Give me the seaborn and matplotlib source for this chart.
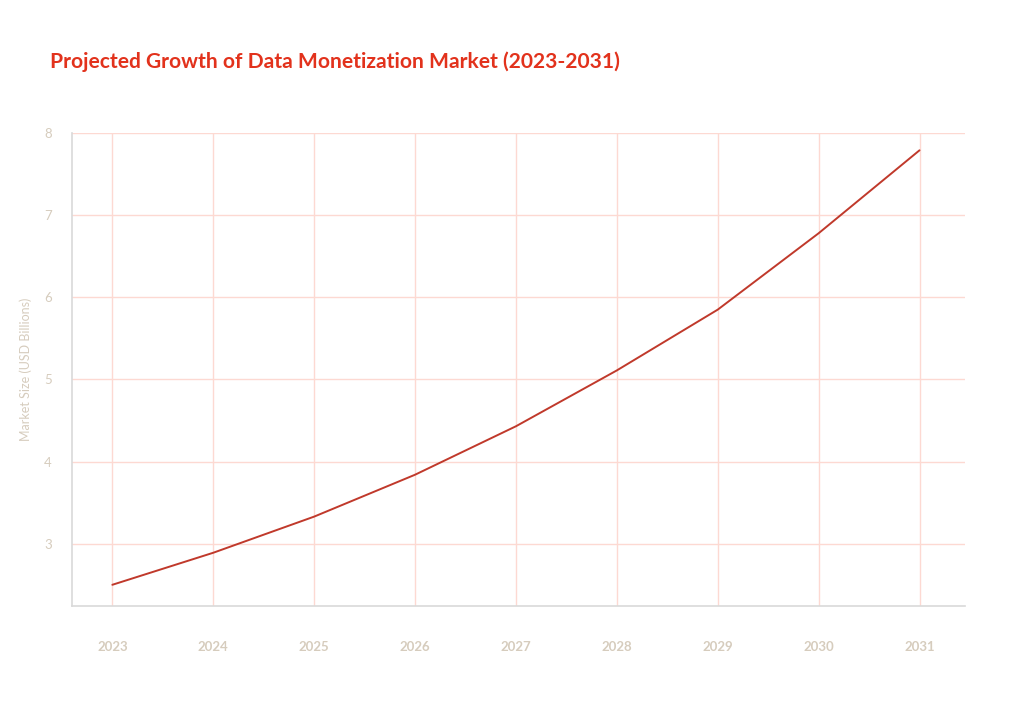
import pandas as pd
import matplotlib.pyplot as plt
import seaborn as sns

# Data
years = [2023, 2024, 2025, 2026, 2027, 2028, 2029, 2030, 2031]
market_size = [2.50, 2.89, 3.33, 3.84, 4.43, 5.11, 5.85, 6.78, 7.79]
y_ticks = [3, 4, 5, 6, 7, 8]

df = pd.DataFrame({'Year': years, 'Market Size': market_size})

sns.set_theme(style="white")
plt.rcParams['font.family'] = ['Lato', 'DejaVu Sans']

fig = plt.figure(figsize=(10.24, 7.04), dpi=100)
ax = fig.add_axes([0.0703, 0.139, 0.872, 0.672])

sns.lineplot(data=df, x='Year', y='Market Size', color='#c0392b', linewidth=1.4, ax=ax)

ax.set_xlim(2022.6, 2031.45)
ax.set_ylim(2.24, 8.0)
ax.set_xticks(years)
ax.set_yticks(y_ticks)
ax.grid(True, color='#fdd9d2', linewidth=1)
ax.set_axisbelow(True)

tick_color = '#d6ccbd'
ax.tick_params(axis='x', colors=tick_color, labelsize=9.5, length=0, pad=25)
ax.tick_params(axis='y', colors=tick_color, labelsize=9.5, length=0, pad=14.5)
for lab in ax.get_xticklabels():
    lab.set_fontweight('bold')

ax.set_xlabel('')
ax.set_ylabel('Market Size (USD Billions)', color=tick_color, fontsize=9, labelpad=9)

for side in ['top', 'right']:
    ax.spines[side].set_visible(False)
for side in ['left', 'bottom']:
    ax.spines[side].set_color('#d9d9d9')
    ax.spines[side].set_linewidth(1.2)

fig.text(0.049, 0.912, 'Projected Growth of Data Monetization Market (2023-2031)',
         color='#e2321c', fontsize=15.1, fontweight='bold', va='center', ha='left')

fig.savefig('out.png', dpi=100, facecolor='white')
